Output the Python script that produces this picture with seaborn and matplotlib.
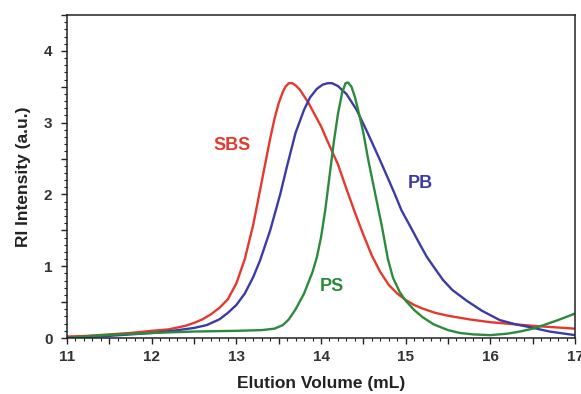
import numpy as np
import pandas as pd
import matplotlib
matplotlib.use("Agg")
import matplotlib.pyplot as plt
from matplotlib.ticker import MultipleLocator, FuncFormatter
import seaborn as sns

# ---- data ----
sbs_x = [11.0, 11.25, 11.5, 11.75, 12.0, 12.2, 12.4, 12.5, 12.6, 12.7, 12.8, 12.9, 13.0,
         13.1, 13.2, 13.3, 13.4, 13.45, 13.5, 13.55, 13.58, 13.62, 13.66, 13.7, 13.75,
         13.85, 14.0, 14.1, 14.2, 14.3, 14.4, 14.5, 14.6, 14.7, 14.8, 14.9, 15.0, 15.1,
         15.2, 15.35, 15.5, 15.75, 16.0, 16.5, 17.0]
sbs_y = [0.02, 0.03, 0.05, 0.07, 0.10, 0.12, 0.17, 0.21, 0.26, 0.33, 0.42, 0.54, 0.76,
         1.10, 1.58, 2.18, 2.78, 3.05, 3.27, 3.43, 3.50, 3.55, 3.55, 3.52, 3.46,
         3.28, 2.95, 2.68, 2.42, 2.08, 1.75, 1.44, 1.15, 0.92, 0.74, 0.62, 0.53, 0.46,
         0.41, 0.35, 0.31, 0.26, 0.22, 0.17, 0.13]

pb_x = [11.0, 11.5, 12.0, 12.25, 12.5, 12.65, 12.8, 12.9, 13.0, 13.1, 13.2, 13.28, 13.4,
        13.52, 13.6, 13.7, 13.8, 13.87, 13.95, 14.02, 14.08, 14.13, 14.2, 14.3, 14.42,
        14.55, 14.7, 14.8, 14.87, 14.95, 15.07, 15.17, 15.25, 15.35, 15.44, 15.55, 15.72,
        15.9, 16.11, 16.3, 16.43, 16.7, 17.0]
pb_y = [0.00, 0.03, 0.07, 0.10, 0.14, 0.18, 0.26, 0.35, 0.46, 0.62, 0.85, 1.08, 1.50,
        2.01, 2.40, 2.86, 3.18, 3.35, 3.47, 3.53, 3.55, 3.55, 3.51, 3.40, 3.18,
        2.86, 2.47, 2.20, 2.01, 1.78, 1.52, 1.30, 1.13, 0.96, 0.81, 0.67, 0.52,
        0.38, 0.25, 0.19, 0.16, 0.09, 0.04]

ps_x = [11.0, 11.3, 11.6, 12.0, 12.5, 13.0, 13.3, 13.45, 13.55, 13.62, 13.7, 13.8, 13.9,
        13.95, 14.0, 14.05, 14.1, 14.15, 14.2, 14.25, 14.29, 14.32, 14.36, 14.4, 14.45,
        14.5, 14.56, 14.64, 14.72, 14.79, 14.85, 14.93, 15.0, 15.1, 15.2, 15.33, 15.5,
        15.64, 15.8, 16.0, 16.2, 16.35, 16.5, 16.63, 16.8, 17.0]
ps_y = [0.00, 0.03, 0.05, 0.07, 0.09, 0.10, 0.11, 0.13, 0.18, 0.26, 0.40, 0.62, 0.92,
        1.12, 1.40, 1.78, 2.25, 2.72, 3.12, 3.42, 3.55, 3.56, 3.50, 3.36, 3.12,
        2.86, 2.47, 2.01, 1.55, 1.10, 0.84, 0.64, 0.52, 0.39, 0.29, 0.19, 0.11,
        0.07, 0.05, 0.04, 0.06, 0.09, 0.13, 0.18, 0.25, 0.34]

series_names = ["SBS", "PB", "PS"]
colors = {"SBS": "#e4392c", "PB": "#3b3ba6", "PS": "#2c8a3c"}
label_pos = {"SBS": (12.95, 2.68), "PB": (15.17, 2.15), "PS": (14.13, 0.72)}

df = pd.concat([
    pd.DataFrame({"x": sbs_x, "y": sbs_y, "s": "SBS"}),
    pd.DataFrame({"x": pb_x, "y": pb_y, "s": "PB"}),
    pd.DataFrame({"x": ps_x, "y": ps_y, "s": "PS"}),
])

sns.set_style("white")
plt.rcParams["font.family"] = ["Liberation Sans", "DejaVu Sans"]

fig = plt.figure(figsize=(5.81, 3.94), dpi=100)
ax = fig.add_axes([67 / 581, 56 / 394, (575 - 67) / 581, (338 - 15) / 394])

sns.lineplot(data=df, x="x", y="y", hue="s", palette=colors, hue_order=series_names,
             sort=False, estimator=None, linewidth=1.7, legend=False, ax=ax)
for line in ax.get_lines():
    line.set_solid_joinstyle("round")
    line.set_solid_capstyle("round")

for name in series_names:
    x, y = label_pos[name]
    ax.text(x, y, name, color=colors[name], fontsize=13, fontweight="bold",
            ha="center", va="center")

ax.set_xlim(11, 17)
ax.set_ylim(0, 4.5)
ax.xaxis.set_major_locator(MultipleLocator(0.5))
ax.xaxis.set_minor_locator(MultipleLocator(0.1))
ax.yaxis.set_major_locator(MultipleLocator(0.5))
ax.yaxis.set_minor_locator(MultipleLocator(0.1))
fmt = FuncFormatter(lambda v, p: f"{int(round(v))}" if abs(v - round(v)) < 1e-6 else "")
ax.xaxis.set_major_formatter(fmt)
ax.yaxis.set_major_formatter(fmt)
ax.tick_params(which="major", direction="out", length=4.5, width=1.0, color="#222222",
               labelsize=11, labelcolor="#333333")
ax.tick_params(axis="y", which="major", pad=6)
ax.tick_params(axis="x", which="major", pad=4)
ax.tick_params(which="minor", direction="out", length=2.5, width=0.8, color="#222222")
ax.tick_params(axis="x", which="both", bottom=True)
ax.tick_params(axis="y", which="both", left=True)
for lab in ax.get_xticklabels() + ax.get_yticklabels():
    lab.set_fontweight("bold")

for sp in ax.spines.values():
    sp.set_visible(True)
    sp.set_color("#222222")
    sp.set_linewidth(1.1)

ax.set_xlabel("Elution Volume (mL)", fontsize=12.5, fontweight="bold", color="#222222", labelpad=9)
ax.set_ylabel("RI Intensity (a.u.)", fontsize=12.5, fontweight="bold", color="#222222", labelpad=9)

fig.savefig("out.png", dpi=100)
